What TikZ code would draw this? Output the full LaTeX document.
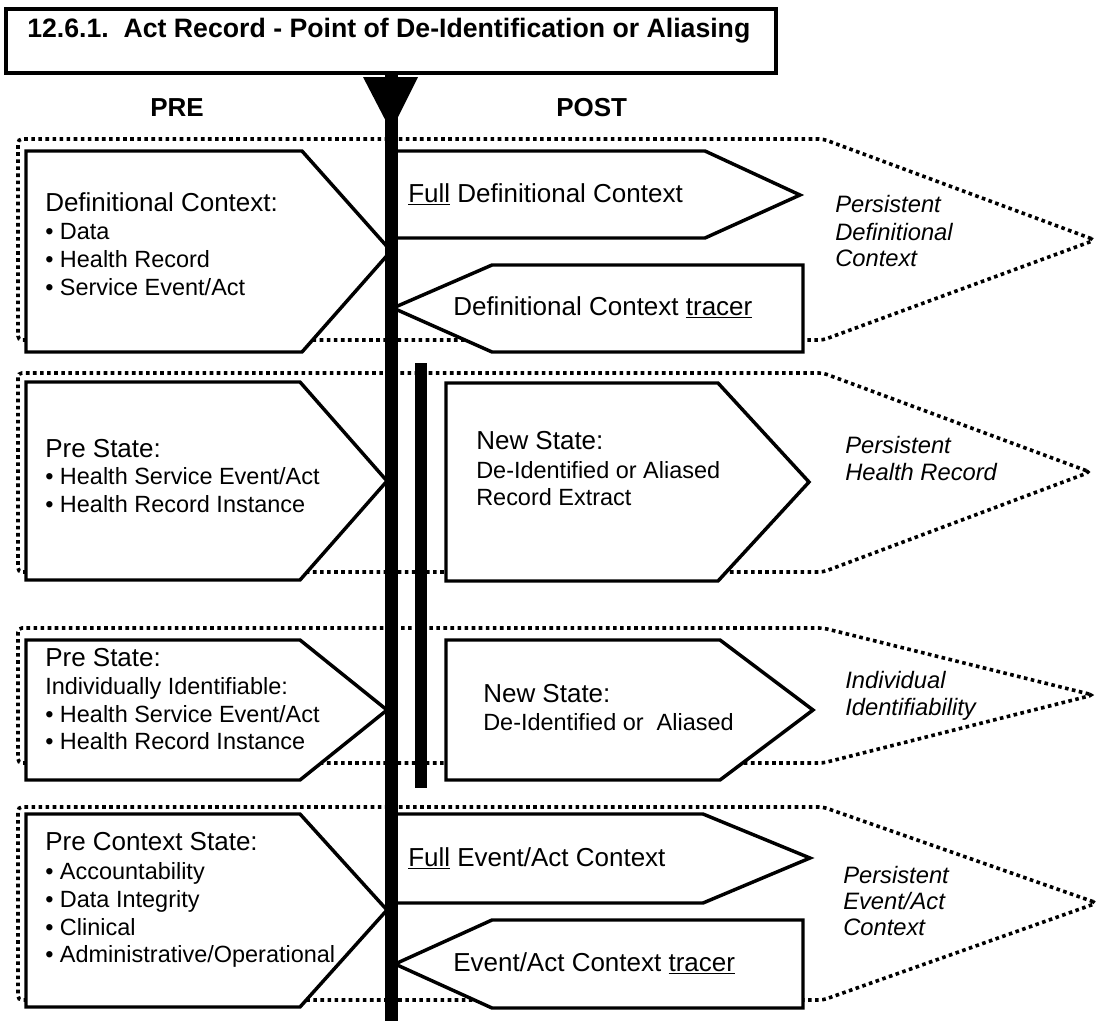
\documentclass[tikz,border=0pt]{standalone}
\usepackage{fontspec}
\setmainfont{Liberation Sans}
\begin{document}
\begin{tikzpicture}[x=0.75pt,y=-0.75pt]
\tikzset{
  boxline/.style={draw=black, line width=2.6pt, fill=white, line join=miter},
  dotband/.style={draw=black, line width=2.7pt, dash pattern=on 2.7pt off 2.6pt, rounded corners=3pt},
  headtxt/.style={inner sep=0pt, anchor=base west, font=\fontsize{19.5}{23}\selectfont},
  itemtxt/.style={inner sep=0pt, anchor=base west, font=\fontsize{17.6}{21}\selectfont},
  sidetxt/.style={inner sep=0pt, anchor=base west, font=\fontsize{17.8}{21}\selectfont\itshape},
  boldtxt/.style={inner sep=0pt, anchor=base west, font=\fontsize{20}{23}\selectfont\bfseries},
}
\useasboundingbox (0,0) rectangle (1099,1021);

% title
\draw[line width=2.4pt] (6,9) rectangle (776,73);
\node[boldtxt] (title) at (27,37) {12.6.1.\ \ Act Record - Point of De-Identification or Aliasing};

% column headings
\node[boldtxt, font=\fontsize{19.5}{23}\selectfont\bfseries] (pre) at (150,116) {PRE};
\node[boldtxt, font=\fontsize{19.5}{23}\selectfont\bfseries] (post) at (556,116) {POST};

% dotted bands
\draw[dotband] (1095,240) -- (823,139) -- (18,139) -- (18,340) -- (823,340) -- cycle;
\draw[dotband] (1090,472) -- (823,373) -- (18,373) -- (18,572) -- (823,572) -- cycle;
\draw[dotband] (1093,695) -- (823,628) -- (18,628) -- (18,763) -- (823,763) -- cycle;
\draw[dotband] (1097,903) -- (823,807) -- (18,807) -- (18,1000) -- (823,1000) -- cycle;

% left (pre) arrow boxes
\draw[boxline] (26,151) -- (302,151) -- (391,251) -- (302,352) -- (26,352) -- cycle;
\draw[boxline] (26,382) -- (300,382) -- (387,481) -- (300,580) -- (26,580) -- cycle;
\draw[boxline] (26,640) -- (300,640) -- (387,710) -- (300,780) -- (26,780) -- cycle;
\draw[boxline] (26,814) -- (300,814) -- (387,910) -- (300,1007) -- (26,1007) -- cycle;

% right (post) arrow boxes
\draw[boxline] (392,151) -- (705,151) -- (800,195) -- (705,238) -- (392,238) -- cycle;
\draw[boxline] (393,308) -- (492,265) -- (803,265) -- (803,352) -- (492,352) -- cycle;
\draw[boxline] (446,383) -- (718,383) -- (809,482) -- (718,581) -- (446,581) -- cycle;
\draw[boxline] (446,640) -- (720,640) -- (813,710) -- (720,780) -- (446,780) -- cycle;
\draw[boxline] (392,814) -- (703,814) -- (810,858) -- (703,903) -- (392,903) -- cycle;
\draw[boxline] (395,964) -- (492,920) -- (803,920) -- (803,1008) -- (492,1008) -- cycle;

% point of de-identification: main bar, marker and secondary bar
\fill[black] (385,75) rectangle (398,1021);
\fill[black] (363,77) -- (418,77) -- (391,131) -- cycle;
\fill[black] (415,363) rectangle (427,788);

% band 1 texts
\node[headtxt] (dc0) at (45,211) {Definitional Context:};
\node[itemtxt] (dc1) at (45,239) {• Data};
\node[itemtxt] (dc2) at (45,267) {• Health Record};
\node[itemtxt] (dc3) at (45,295) {• Service Event/Act};
\node[headtxt] (fdc) at (408,202) {\underline{Full} Definitional Context};
\node[headtxt] (tdc) at (453,315) {Definitional Context \underline{tracer}};
\node[sidetxt] (pdc1) at (835,212) {Persistent};
\node[sidetxt] (pdc2) at (835,240) {Definitional};
\node[sidetxt] (pdc3) at (835,266) {Context};

% band 2 texts
\node[headtxt] (ps0) at (45,457) {Pre State:};
\node[itemtxt] (ps1) at (45,484) {• Health Service Event/Act};
\node[itemtxt] (ps2) at (45,512) {• Health Record Instance};
\node[headtxt] (ns0) at (476,449) {New State:};
\node[itemtxt] (ns1) at (476,478) {De-Identified or Aliased};
\node[itemtxt] (ns2) at (476,505) {Record Extract};
\node[sidetxt] (phr1) at (845,453) {Persistent};
\node[sidetxt] (phr2) at (845,480) {Health Record};

% band 3 texts
\node[headtxt] (pi0) at (45,666) {Pre State:};
\node[itemtxt] (pi1) at (45,694) {Individually Identifiable:};
\node[itemtxt] (pi2) at (45,722) {• Health Service Event/Act};
\node[itemtxt] (pi3) at (45,749) {• Health Record Instance};
\node[headtxt] (ni0) at (483,702) {New State:};
\node[itemtxt] (ni1) at (483,730) {De-Identified or~~Aliased};
\node[sidetxt] (ii1) at (845,688) {Individual};
\node[sidetxt] (ii2) at (845,715) {Identifiability};

% band 4 texts
\node[headtxt] (pc0) at (45,850) {Pre Context State:};
\node[itemtxt] (pc1) at (45,879) {• Accountability};
\node[itemtxt] (pc2) at (45,907) {• Data Integrity};
\node[itemtxt] (pc3) at (45,935) {• Clinical};
\node[itemtxt] (pc4) at (45,962) {• Administrative/Operational};
\node[headtxt] (fec) at (408,866) {\underline{Full} Event/Act Context};
\node[headtxt] (tec) at (453,971) {Event/Act Context \underline{tracer}};
\node[sidetxt] (pec1) at (843,883) {Persistent};
\node[sidetxt] (pec2) at (843,909) {Event/Act};
\node[sidetxt] (pec3) at (843,935) {Context};
\end{tikzpicture}
\end{document}
